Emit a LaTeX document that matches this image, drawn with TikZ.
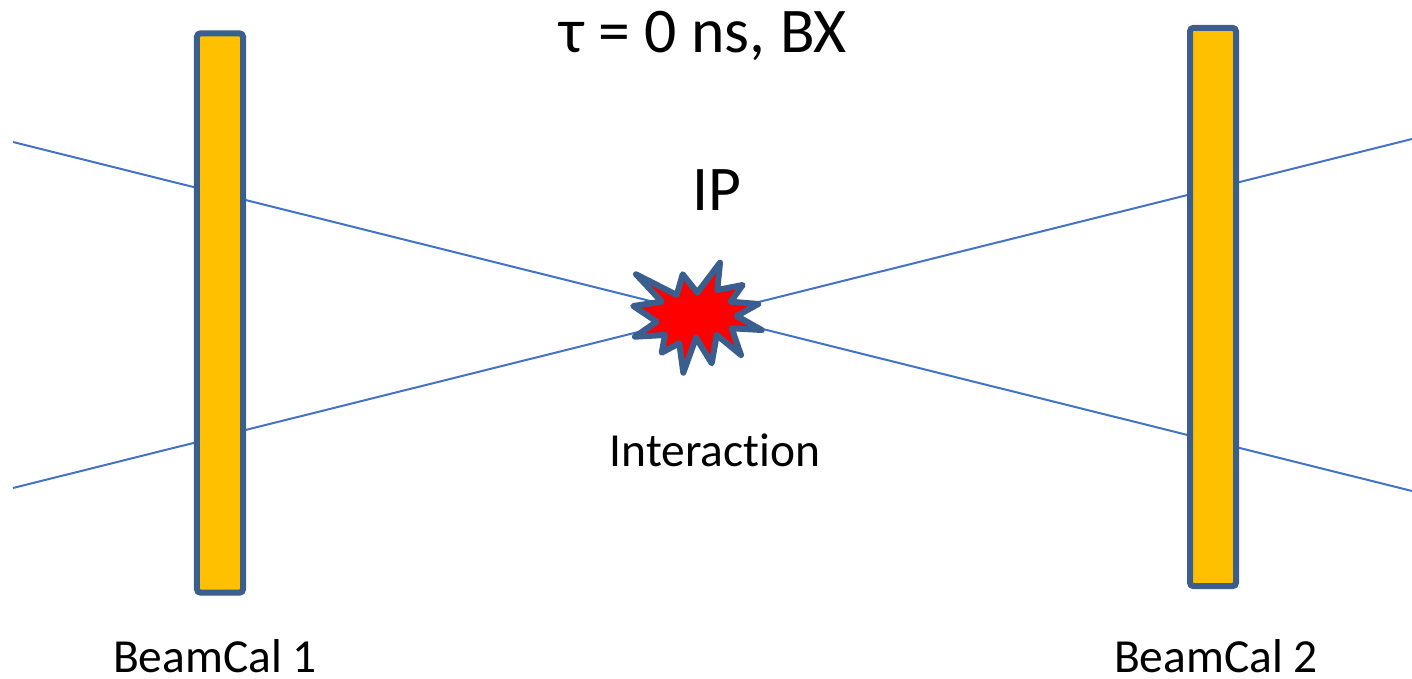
\documentclass[tikz,border=0pt]{standalone}
\usepackage{fontspec}
\setmainfont[Ligatures=NoCommon]{Carlito}
\definecolor{beamblue}{HTML}{4472C4}
\definecolor{edgeblue}{HTML}{3A5F8E}
\definecolor{calgold}{HTML}{FFC000}
\begin{document}
\begin{tikzpicture}[x=0.01cm,y=-0.01cm,
  cal/.style={draw=edgeblue,fill=calgold,line width=0.06cm,rounded corners=1pt,inner sep=0pt,minimum width=0.46cm},
  beam/.style={draw=beamblue,line width=0.2mm},
  burst/.style={draw=edgeblue,fill=red,line width=0.06cm,line join=round},
  lbl/.style={inner sep=0pt,font=\fontsize{13.5pt}{16pt}\selectfont},
  big/.style={inner sep=0pt,font=\fontsize{18.1pt}{21pt}\selectfont}]
\useasboundingbox (0,0) rectangle (1412,679);
\coordinate (ul) at (13,142);
\coordinate (ll) at (13,488);
\coordinate (ur) at (1412,139);
\coordinate (lr) at (1412,491);
\draw[beam] (ul) -- (lr);
\draw[beam] (ll) -- (ur);
\node[cal,minimum height=5.59cm] (bc1) at (220,313) {};
\node[cal,minimum height=5.58cm] (bc2) at (1213,307) {};
\draw[burst] (636,274.3) -- (676.7,295) -- (682.7,274.3) -- (697.3,292.7) -- (720,262.7) -- (717.3,290) -- (742.7,285) -- (730.7,301.7) -- (758.3,304) -- (736.7,316) -- (761.7,330) -- (731.7,328.3) -- (741,355) -- (716.7,335) -- (711.7,363.3) -- (696,337.7) -- (683.3,372.7) -- (679.3,343.3) -- (661.7,352.7) -- (665,335) -- (635,336.7) -- (656.7,321.7) -- (633.3,306) -- (661.7,301.7) -- cycle;
\node[big] (title) at (703,36) {τ = 0 ns, BX};
\node[big] (ip) at (717,190) {IP};
\node[lbl] (inter) at (715,450) {Interaction};
\node[lbl] (bc1lbl) at (215,656) {BeamCal 1};
\node[lbl] (bc2lbl) at (1216,656) {BeamCal 2};
\end{tikzpicture}
\end{document}
